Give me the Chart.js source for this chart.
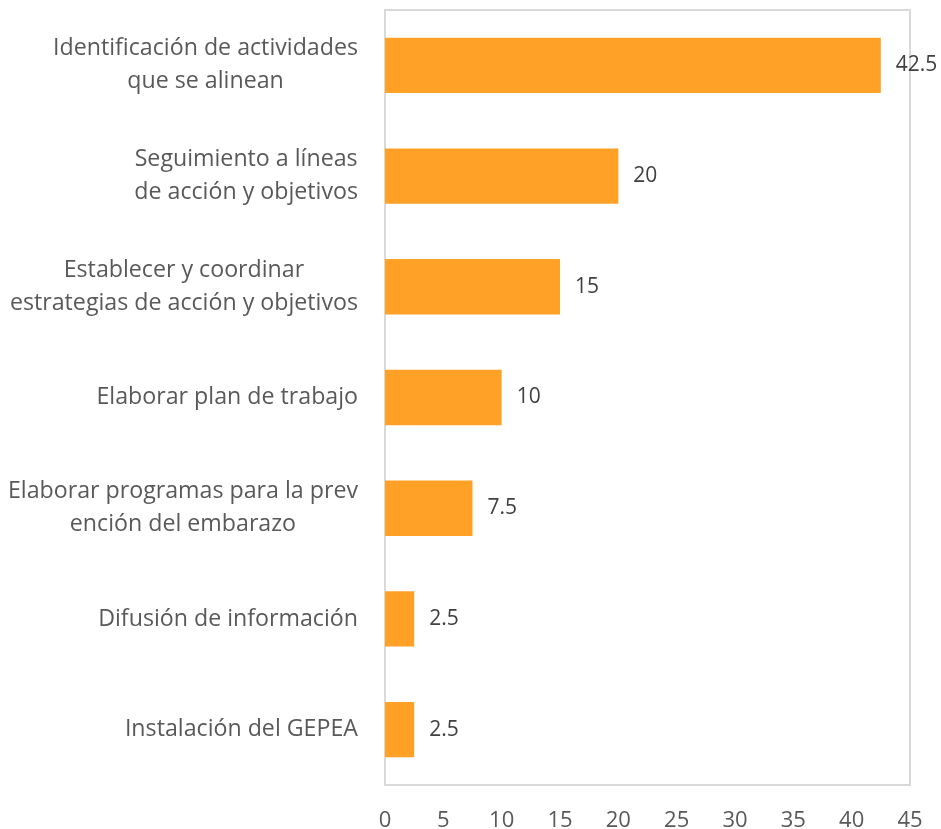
<!DOCTYPE html>
<html>
<head>
<meta charset="utf-8">
<script src="https://cdn.jsdelivr.net/npm/chart.js@4/dist/chart.umd.min.js"></script>
<style>
	html, body { margin: 0; padding: 0; background: #fff; }
	#wrap { width: 941px; height: 829px; }
</style>
</head>
<body>
<div id="wrap"><canvas id="chart"></canvas></div>
<script>
const categories = [
	["Identificación de actividades", "que se alinean"],
	["Seguimiento a líneas", "de acción y objetivos"],
	["Establecer y coordinar", "estrategias de acción y objetivos"],
	["Elaborar plan de trabajo"],
	["Elaborar programas para la prev", "ención del embarazo"],
	["Difusión de información"],
	["Instalación del GEPEA"]
];
const values = [42.5, 20, 15, 10, 7.5, 2.5, 2.5];
const x_ticks = [0, 5, 10, 15, 20, 25, 30, 35, 40, 45];

const font_family = "'Open Sans', sans-serif";
const label_color = "#595959";

// plot box drawn round the chart area
const box_plugin = {
	id: "box",
	beforeDatasetsDraw: (chart) => {
		const { ctx, chartArea: a } = chart;
		ctx.save();
		ctx.strokeStyle = "#d9d9d9";
		ctx.lineWidth = 2;
		ctx.strokeRect(a.left, a.top, a.right - a.left, a.bottom - a.top);
		ctx.restore();
	}
};

// category labels: block right aligned, lines centred inside it
const cat_label_plugin = {
	id: "catLabels",
	afterDraw: (chart) => {
		const { ctx } = chart;
		const y = chart.scales.y;
		ctx.save();
		ctx.font = `23.2px ${font_family}`;
		ctx.fillStyle = label_color;
		ctx.textAlign = "center";
		ctx.textBaseline = "middle";
		const line_h = 33;
		categories.forEach((lines, i) => {
			const cy = y.getPixelForTick(i);
			const w = Math.max(...lines.map(l => ctx.measureText(l).width));
			const cx = chart.chartArea.left - 27 - w / 2;
			const top = cy - (lines.length - 1) * line_h / 2;
			lines.forEach((l, j) => ctx.fillText(l, cx, top + j * line_h));
		});
		ctx.restore();
	}
};

// value labels at the end of each bar
const value_label_plugin = {
	id: "valueLabels",
	afterDatasetsDraw: (chart) => {
		const { ctx } = chart;
		const meta = chart.getDatasetMeta(0);
		ctx.save();
		ctx.font = `21px ${font_family}`;
		ctx.fillStyle = "#404040";
		ctx.textAlign = "left";
		ctx.textBaseline = "middle";
		meta.data.forEach((bar, i) => {
			ctx.fillText(String(values[i]), bar.x + 15, bar.y);
		});
		ctx.restore();
	}
};

new Chart(document.getElementById("chart"), {
	type: "bar",
	data: {
		labels: categories,
		datasets: [{
			data: values,
			backgroundColor: "#ffa126",
			borderWidth: 0,
			categoryPercentage: 1,
			barPercentage: 0.5
		}]
	},
	options: {
		indexAxis: "y",
		responsive: true,
		maintainAspectRatio: false,
		animation: false,
		layout: { padding: { top: 10, right: 31, bottom: 0, left: 0 } },
		plugins: {
			legend: { display: false },
			tooltip: { enabled: false }
		},
		scales: {
			x: {
				min: 0,
				max: 45,
				afterBuildTicks: (scale) => {
					scale.ticks = x_ticks.map(v => ({ value: v }));
				},
				grid: { display: false, drawTicks: false },
				border: { display: false },
				ticks: {
					padding: 23,
					color: label_color,
					font: { family: font_family, size: 22 },
					maxRotation: 0
				},
				afterFit: (scale) => {
					scale.height = 44;
					scale.paddingRight = 0;
					scale.paddingLeft = 0;
				}
			},
			y: {
				grid: { display: false, drawTicks: false },
				border: { display: false },
				ticks: { display: false },
				afterFit: (scale) => { scale.width = 385; }
			}
		}
	},
	plugins: [box_plugin, cat_label_plugin, value_label_plugin]
});
</script>
</body>
</html>
